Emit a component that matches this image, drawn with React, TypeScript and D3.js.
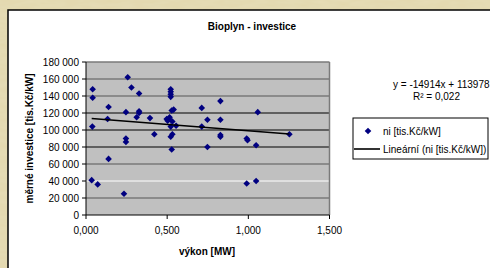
import React from "react";
import * as d3 from "d3";

const title = "Bioplyn - investice";
const xTitle = "výkon [MW]";
const yTitle = "měrné investice [tis.Kč/kW]";
const seriesName = "ni [tis.Kč/kW]";
const trendName = "Lineární (ni [tis.Kč/kW])";
const equationText = "y = -14914x + 113978";
const r2Text = "R² = 0,022";

const xTicks = [0, 0.5, 1, 1.5];
const yTicks = [0, 20000, 40000, 60000, 80000, 100000, 120000, 140000, 160000, 180000];

const vykon = [
  0.041, 0.041, 0.039, 0.035, 0.072, 0.139, 0.133, 0.139, 0.257, 0.28,
  0.327, 0.246, 0.246, 0.246, 0.234, 0.312, 0.327, 0.327, 0.394, 0.421,
  0.497, 0.503, 0.512, 0.522, 0.522, 0.522, 0.522, 0.528, 0.54, 0.522,
  0.522, 0.532, 0.528, 0.515, 0.532, 0.555, 0.713, 0.713, 0.748, 0.748,
  0.828, 0.828, 0.828, 0.828, 0.99, 0.995, 0.99, 1.048, 1.048, 1.058,
  1.253,
];
const investice = [
  148000, 138000, 104000, 41000, 36000, 127000, 113000, 66000, 162000, 150000,
  143000, 121000, 90000, 86000, 25000, 115000, 122000, 120000, 114000, 95000,
  113000, 111000, 113000, 148000, 145000, 142000, 139000, 123000, 124000, 104000,
  92000, 95000, 77000, 115000, 110000, 105000, 126000, 104000, 112000, 80000,
  134000, 112000, 94000, 92000, 90000, 88000, 37000, 82000, 40000, 121000,
  95000,
];
const slope = -14914;
const intercept = 113978;

const gridStyle: Record<number, { c: string; w: number }> = {
  20000: { c: "#7a7a7a", w: 1.6 },
  40000: { c: "#ffffff", w: 1 },
  60000: { c: "#7a7a7a", w: 1.6 },
  80000: { c: "#000000", w: 1 },
  100000: { c: "#000000", w: 1 },
  120000: { c: "#000000", w: 1 },
  140000: { c: "#7a7a7a", w: 1.6 },
  160000: { c: "#7a7a7a", w: 1.6 },
  180000: { c: "#7a7a7a", w: 1.6 },
};

const fmtX = (v: number) => d3.format(".3f")(v).replace(".", ",");
const fmtY = (v: number) => d3.format(",")(v).replace(/,/g, " ");

export default function App() {
  const W = 490, H = 268;
  const left = 86, right = 329.5, top = 62, bottom = 215;
  const x = d3.scaleLinear().domain([0, 1.5]).range([left, right]);
  const y = d3.scaleLinear().domain([0, 180000]).range([bottom, top]);
  const xmin = d3.min(vykon)!, xmax = d3.max(vykon)!;
  const trend = d3.line<number>().x((v) => x(v)).y((v) => y(slope * v + intercept));
  const font = "'Liberation Sans', Arial, sans-serif";
  const diamond = (cx: number, cy: number, r = 3.3) =>
    `M${cx},${cy - r}L${cx + r},${cy}L${cx},${cy + r}L${cx - r},${cy}Z`;

  return (
    <svg width={W} height={H} style={{ position: "absolute", left: 0, top: 0 }} fontFamily={font}>
      <defs>
        <filter id="paper" x="0" y="0" width="100%" height="100%">
          <feTurbulence type="fractalNoise" baseFrequency="0.06 0.25" numOctaves="3" seed="4" />
          <feColorMatrix type="matrix" values="0 0 0 0 0.9  0 0 0 0 0.86  0 0 0 0 0.7  0 0 0 0.35 0" />
          <feComposite in2="SourceGraphic" operator="over" />
        </filter>
      </defs>
      <rect x={0} y={0} width={W} height={H} fill="#e3d8ad" />
      <rect x={0} y={0} width={W} height={H} fill="#e3d8ad" filter="url(#paper)" opacity={0.6} />
      <rect x={8} y={10} width={W} height={H} fill="#ffffff" stroke="#000" strokeWidth={1.5} />

      <text x={252} y={30} textAnchor="middle" fontSize={10} fontWeight="bold">{title}</text>

      <rect x={left} y={top} width={right - left} height={bottom - top} fill="#c0c0c0" />
      {yTicks.filter((t) => t > 0).map((t) => (
        <line key={t} x1={left} x2={right} y1={y(t)} y2={y(t)} stroke={gridStyle[t].c} strokeWidth={gridStyle[t].w} />
      ))}
      <line x1={right} x2={right} y1={top} y2={bottom} stroke="#7a7a7a" strokeWidth={1.5} />
      <line x1={left} x2={left} y1={top} y2={bottom} stroke="#000" />
      <line x1={left} x2={right} y1={bottom} y2={bottom} stroke="#000" />

      {yTicks.map((t) => (
        <g key={t}>
          <line x1={left - 4} x2={left} y1={y(t)} y2={y(t)} stroke="#000" />
          <text x={left - 7} y={y(t) + 3.5} textAnchor="end" fontSize={10}>{fmtY(t)}</text>
        </g>
      ))}
      {xTicks.map((t) => (
        <g key={t}>
          <line x1={x(t)} x2={x(t)} y1={bottom} y2={bottom + 4} stroke="#000" />
          <text x={x(t)} y={bottom + 19} textAnchor="middle" fontSize={10}>{fmtX(t)}</text>
        </g>
      ))}

      <text x={207} y={255} textAnchor="middle" fontSize={10} fontWeight="bold">{xTitle}</text>
      <text transform={`translate(33,${(top + bottom) / 2}) rotate(-90)`} textAnchor="middle" fontSize={10} fontWeight="bold">{yTitle}</text>

      {vykon.map((v, i) => (
        <path key={i} d={diamond(x(v), y(investice[i]))} fill="#000080" />
      ))}
      <path d={trend([xmin, xmax]) || ""} stroke="#000" strokeWidth={1.6} fill="none" />

      <text x={393} y={88} fontSize={10}>{equationText}</text>
      <text x={413} y={100} fontSize={10}>{r2Text}</text>

      <rect x={353} y={118} width={135} height={41} fill="#fff" stroke="#000" strokeWidth={1} />
      <path d={diamond(368, 131)} fill="#000080" />
      <text x={383} y={134.5} fontSize={10}>{seriesName}</text>
      <line x1={354} x2={380} y1={149} y2={149} stroke="#000" strokeWidth={1.6} />
      <text x={383} y={152.5} fontSize={10}>{trendName}</text>
    </svg>
  );
}
